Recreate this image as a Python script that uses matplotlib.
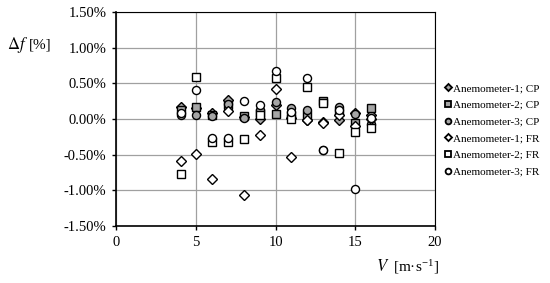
import matplotlib
matplotlib.use("Agg")
import matplotlib.pyplot as plt
from matplotlib.ticker import FuncFormatter

plt.rcParams["font.family"] = ["Liberation Serif", "DejaVu Serif"]
plt.rcParams["mathtext.fontset"] = "stix"

# wind speed columns (m/s)
V = [4.1, 5, 6, 7, 8, 9, 10, 11, 12, 13, 14, 15, 16]

# frequency deviation (%) per anemometer, CP and FR
cp1 = [0.17, 0.15, 0.08, 0.26, 0.03, 0.00, 0.20, 0.02, -0.02, -0.04, -0.01, 0.09, 0.05]
cp2 = [0.12, 0.17, 0.05, 0.20, 0.04, 0.08, 0.07, 0.05, 0.05, 0.25, 0.10, -0.06, 0.15]
cp3 = [0.05, 0.06, 0.04, 0.21, 0.01, 0.12, 0.24, 0.15, 0.12, -0.43, 0.17, 0.07, -0.07]
fr1 = [-0.59, -0.49, -0.84, 0.11, -1.07, -0.23, 0.42, -0.53, -0.02, -0.05, 0.05, -0.10, 0.00]
fr2 = [-0.77, 0.59, -0.32, -0.32, -0.28, 0.05, 0.57, 0.00, 0.45, 0.22, -0.47, -0.18, -0.12]
fr3 = [0.08, 0.40, -0.26, -0.27, 0.25, 0.20, 0.67, 0.10, 0.57, -0.44, 0.12, -0.98, 0.02]

series = [
    ("Anemometer-1; CP", cp1, "D", "#a6a6a6"),
    ("Anemometer-2; CP", cp2, "s", "#a6a6a6"),
    ("Anemometer-3; CP", cp3, "o", "#a6a6a6"),
    ("Anemometer-1; FR", fr1, "D", "white"),
    ("Anemometer-2; FR", fr2, "s", "white"),
    ("Anemometer-3; FR", fr3, "o", "white"),
]

fig = plt.figure(figsize=(5.5, 2.83), dpi=100)
ax = fig.add_axes([0.211, 0.201, 0.58, 0.757])

for label, vals, mk, fc in series:
    ms = 5.0 if mk == "D" else 5.8
    ax.plot(V, vals, ls="none", marker=mk, ms=ms, mfc=fc, mec="black",
            mew=1.0, label=label, zorder=3)

ax.set_xlim(0, 20)
ax.set_ylim(-1.5, 1.5)
ax.set_xticks([0, 5, 10, 15, 20])
ax.set_yticks([-1.5, -1.0, -0.5, 0.0, 0.5, 1.0, 1.5])
ax.yaxis.set_major_formatter(FuncFormatter(lambda v, _: f"{v:.2f}%"))
ax.grid(True, color="#a0a0a0", lw=0.9, zorder=0)
ax.set_axisbelow(True)
ax.tick_params(labelsize=10.5, length=3, width=1, direction="out", pad=4)
for side, sp in ax.spines.items():
    sp.set_color("black")
    sp.set_linewidth(1.2 if side in ("left", "bottom") else 0.8)

# axis labels as free text, placed like the original
fig.text(0.013, 0.84, r"$\Delta f$", fontsize=12, ha="left", va="center")
fig.text(0.053, 0.84, "[%]", fontsize=11, ha="left", va="center")
fig.text(0.683, 0.058, r"$V$", fontsize=12, ha="left", va="center")
fig.text(0.714, 0.058, "[m·s$^{\\mathregular{-1}}$]", fontsize=11,
         ha="left", va="center")

leg = fig.legend(loc="upper left", bbox_to_anchor=(0.808, 0.705),
                 frameon=False, fontsize=8, markerscale=0.72,
                 handlelength=0.6, handletextpad=0.15, labelspacing=0.62,
                 borderaxespad=0, borderpad=0)
for h in leg.legend_handles:
    h.set_markeredgewidth(1.3)

fig.savefig("out.png", dpi=100)
